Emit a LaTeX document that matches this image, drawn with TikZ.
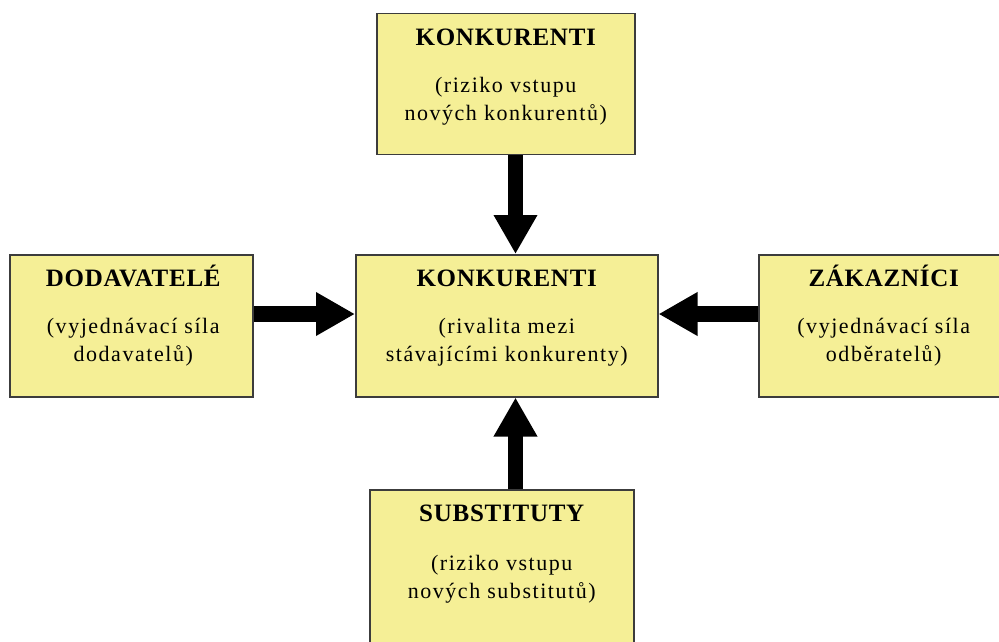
\documentclass[tikz,border=0pt]{standalone}
\usepackage{fontspec}
\setmainfont{Liberation Serif}
\newfontfamily\titlefont{Liberation Serif}[LetterSpace=3]
\newfontfamily\descfont{Liberation Serif}[LetterSpace=7]
\usetikzlibrary{arrows.meta}
\definecolor{boxfill}{RGB}{245,239,150}
\definecolor{boxline}{RGB}{60,60,60}
\tikzset{
  box/.style={draw=boxline, line width=1.5pt, fill=boxfill, rectangle, anchor=north west, inner sep=0pt},
  txt/.style={anchor=north, inner sep=0pt, outer sep=0pt, align=center, font=\descfont\fontsize{22}{28}\selectfont},
  bigarrow/.style={line width=15.5pt, draw=black, -{Triangle[length=39pt,width=41pt]}}
}
\newcommand{\ttl}[1]{\smash{{\titlefont\bfseries\fontsize{25}{28}\selectfont #1}}\rule{0pt}{16.5pt}}
\begin{document}
\begin{tikzpicture}[x=1pt,y=-1pt]
\clip (0,0) rectangle (999,641);
\fill[white] (0,0) rectangle (999,641);
% boxes
\node[box, minimum width=258pt, minimum height=141pt] (top) at (376,12.5) {};
\node[box, minimum width=302pt, minimum height=142pt] (mid) at (355,254) {};
\node[box, minimum width=243pt, minimum height=142pt] (left) at (9,254) {};
\node[box, minimum width=250pt, minimum height=142pt] (right) at (758,254) {};
\node[box, minimum width=264pt, minimum height=170pt] (bot) at (369,489) {};
% texts
\node[txt] (topt) at ([yshift=-16pt]top.north) {\ttl{KONKURENTI}\\[19pt](riziko vstupu\\nových konkurentů)};
\node[txt] (midt) at ([yshift=-16pt]mid.north) {\ttl{KONKURENTI}\\[19pt](rivalita mezi\\stávajícími konkurenty)};
\node[txt] (leftt) at ([yshift=-16pt,xshift=2pt]left.north) {\ttl{DODAVATELÉ}\\[19pt](vyjednávací síla\\dodavatelů)};
\node[txt] (rightt) at ([yshift=-16pt]right.north) {\ttl{ZÁKAZNÍCI}\\[19pt](vyjednávací síla\\odběratelů)};
\node[txt] (bott) at ([yshift=-16pt]bot.north) {\ttl{SUBSTITUTY}\\[21pt](riziko vstupu\\nových substitutů)};
% arrow axes
\coordinate (ax) at (515.5,0);
\coordinate (ay) at (0,314);
% arrows
\draw[bigarrow] (top.south -| ax) -- (mid.north -| ax);
\draw[bigarrow] (bot.north -| ax) -- (mid.south -| ax);
\draw[bigarrow] (left.east |- ay) -- (mid.west |- ay);
\draw[bigarrow] (right.west |- ay) -- (mid.east |- ay);
\end{tikzpicture}
\end{document}
